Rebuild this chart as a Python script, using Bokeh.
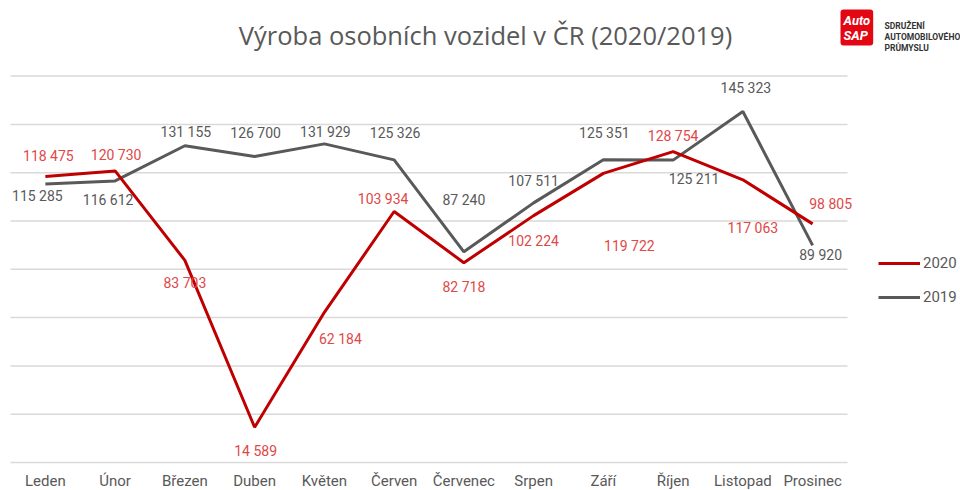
from bokeh.plotting import figure
from bokeh.models import (ColumnDataSource, Range1d, LabelSet, Label, Legend,
                          LegendItem)
from bokeh.core.properties import value
from bokeh.embed import file_html
from bokeh.resources import INLINE

months = ["Leden", "Únor", "Březen", "Duben", "Květen", "Červen", "Červenec",
          "Srpen", "Září", "Říjen", "Listopad", "Prosinec"]
v2020 = [118475, 120730, 83703, 14589, 62184, 103934, 82718, 102224, 119722,
         128754, 117063, 98805]
v2019 = [115285, 116612, 131155, 126700, 131929, 125326, 87240, 107511, 125351,
         125211, 145323, 89920]
grid_ticks = [0, 20000, 40000, 60000, 80000, 100000, 120000, 140000, 160000]
title_text = "Výroba osobních vozidel v ČR (2020/2019)"
series_names = ["2020", "2019"]

# data-label placement (screen px, right / down)
dx2020 = [3, 1, 0, 1, 16, -11, 0, 0, 26, 0, 10, 18]
dy2020 = [-20, -16, 23, 24, 27, -12, 24, 25, 73, -16, 48, -20]
dx2019 = [-8, -7, 1, 1, 1, 1, 0, 0, 1, 21, 3, 8]
dy2019 = [12, 19, -14, -24, -12, -27, -52, -22, -27, 19, -24, 10]

RED = "#c00000"
RED_TXT = "#e04848"
GRAY = "#595959"

W, H = 960, 490
# plot-area layout in pixels
LEFT, RIGHT = 10, 847          # category band extent
ZERO_Y, TOP_Y = 462, 75.6      # pixel rows of 0 and of the top grid line

band = (RIGHT - LEFT) / len(months)
x_start = -0.5 - LEFT / band
x_end = x_start + W / band
upp = grid_ticks[-1] / (ZERO_Y - TOP_Y)
y_start = -(H - ZERO_Y) * upp
y_end = ZERO_Y * upp


def fmt(v):
    return f"{v:,}".replace(",", " ")


idx = list(range(len(months)))
src = ColumnDataSource(dict(
    x=idx, m=months, a=v2020, b=v2019, zero=[0] * len(months),
    la=[fmt(v) for v in v2020], lb=[fmt(v) for v in v2019],
    dxa=dx2020, dya=[-d for d in dy2020],
    dxb=dx2019, dyb=[-d for d in dy2019],
))
gsrc = ColumnDataSource(dict(y=grid_ticks,
                             x0=[-0.5] * len(grid_ticks),
                             x1=[len(months) - 0.5] * len(grid_ticks)))

p = figure(width=W, height=H, x_range=Range1d(x_start, x_end),
           y_range=Range1d(y_start, y_end), output_backend="svg",
           toolbar_location=None, min_border=0)
p.outline_line_color = None
p.axis.visible = False
p.grid.visible = False

p.segment(x0="x0", x1="x1", y0="y", y1="y", source=gsrc,
          line_color="#d9d9d9", line_width=1.5)

r19 = p.line("x", "b", source=src, line_color=GRAY, line_width=3)
r20 = p.line("x", "a", source=src, line_color=RED, line_width=3)

p.add_layout(LabelSet(x="x", y="a", text="la", source=src, x_offset="dxa",
                      y_offset="dya", text_align="center", text_baseline="middle",
                      text_font=value("Roboto"), text_font_size="14px",
                      text_color=RED_TXT))
p.add_layout(LabelSet(x="x", y="b", text="lb", source=src, x_offset="dxb",
                      y_offset="dyb", text_align="center", text_baseline="middle",
                      text_font=value("Roboto"), text_font_size="14px",
                      text_color=GRAY))
# month (category) labels under the base line
p.add_layout(LabelSet(x="x", y="zero", text="m", source=src, y_offset=-18,
                      text_align="center", text_baseline="middle",
                      text_font=value("Roboto"), text_font_size="15px",
                      text_color=GRAY))

legend = Legend(items=[LegendItem(label=series_names[0], renderers=[r20]),
                       LegendItem(label=series_names[1], renderers=[r19])],
                location=(878, 183), padding=0, margin=0, spacing=14,
                glyph_width=42, glyph_height=20, label_standoff=3,
                label_text_font="Roboto", label_text_font_size="15px",
                label_text_color=GRAY, background_fill_alpha=0,
                border_line_color=None)
p.add_layout(legend, "center")

p.add_layout(Label(x=485, y=H - 34, x_units="screen", y_units="screen",
                   text=title_text, text_align="center", text_baseline="middle",
                   text_font="Open Sans", text_font_size="25.5px",
                   text_color=GRAY))

p.add_layout(Label(x=840, y=H - 9, x_units="screen", y_units="screen",
                   text="Auto\nSAP", text_align="left", text_baseline="top",
                   text_font="Roboto", text_font_style="bold italic",
                   text_font_size="13px", text_color="white",
                   background_fill_color="#e30613", padding=3,
                   border_radius=3, text_line_height=1.0))
p.add_layout(Label(x=884, y=H - 20, x_units="screen", y_units="screen",
                   text="SDRUŽENÍ\nAUTOMOBILOVÉHO\nPRŮMYSLU", text_align="left",
                   text_baseline="top", text_font="Roboto",
                   text_font_style="bold", text_font_size="8.5px",
                   text_color="#333333", text_line_height=1.1))

open("out.html", "w").write(file_html(p, INLINE))
